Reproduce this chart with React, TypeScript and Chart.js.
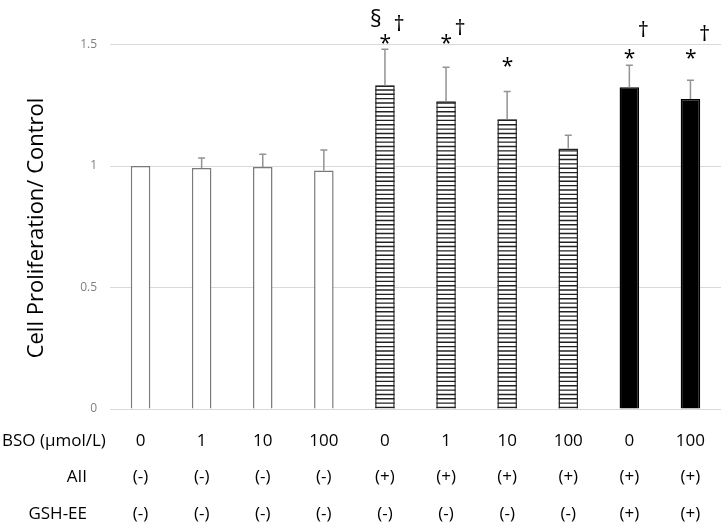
import { useEffect, useRef } from "react";
import { Chart, registerables } from "chart.js";

Chart.register(...registerables);

// ---- data ----
const bsoLabels = ["0", "1", "10", "100", "0", "1", "10", "100", "0", "100"];
const aiiLabels = ["(-)", "(-)", "(-)", "(-)", "(+)", "(+)", "(+)", "(+)", "(+)", "(+)"];
const gshLabels = ["(-)", "(-)", "(-)", "(-)", "(-)", "(-)", "(-)", "(-)", "(+)", "(+)"];
const rowTitles = ["BSO (\u03bcmol/L)", "AII", "GSH-EE"];
const means = [1.0, 0.992, 0.996, 0.981, 1.331, 1.266, 1.192, 1.072, 1.324, 1.276];
const errors = [0, 0.041, 0.052, 0.085, 0.149, 0.14, 0.115, 0.055, 0.091, 0.077];
const groups = ["open", "open", "open", "open", "striped", "striped", "striped", "striped", "solid", "solid"];
const asteriskY = [null, null, null, null, 1.522, 1.522, 1.428, null, 1.461, 1.461];
const daggerY = [null, null, null, null, 1.588, 1.574, null, null, 1.563, 1.549];
const sectionY = [null, null, null, null, 1.61, null, null, null, null, null];
const yTicks = [0, 0.5, 1, 1.5];
const yTitle = "Cell Proliferation/ Control";

const FONT = "'Open Sans', 'DejaVu Sans', sans-serif";

function drawCentered(ctx: CanvasRenderingContext2D, text: string, font: string, cx: number, cy: number) {
  ctx.font = font;
  ctx.textAlign = "left";
  ctx.textBaseline = "alphabetic";
  const m = ctx.measureText(text);
  const asc = m.actualBoundingBoxAscent;
  const desc = m.actualBoundingBoxDescent;
  const l = m.actualBoundingBoxLeft;
  const r = m.actualBoundingBoxRight;
  const bx = cx - (r - l) / 2;
  const by = cy + (asc - desc) / 2;
  ctx.fillText(text, bx, by);
}

const overlay = {
  id: "overlay",
  afterDatasetsDraw(chart: any) {
    const ctx: CanvasRenderingContext2D = chart.ctx;
    const meta = chart.getDatasetMeta(0);
    const ys = chart.scales.y;
    const xs = chart.scales.x;
    ctx.save();
    meta.data.forEach((bar: any, i: number) => {
      const { x, y, base, width } = bar.getProps(["x", "y", "base", "width"], true);
      if (groups[i] === "striped") {
        ctx.save();
        ctx.beginPath();
        ctx.rect(x - width / 2, y, width, base - y);
        ctx.clip();
        ctx.strokeStyle = "#222";
        ctx.lineWidth = 1.4;
        for (let yy = base - 1; yy > y; yy -= 4.35) {
          ctx.beginPath();
          ctx.moveTo(x - width / 2, yy);
          ctx.lineTo(x + width / 2, yy);
          ctx.stroke();
        }
        ctx.restore();
      }
      if (errors[i] > 0) {
        const top = ys.getPixelForValue(means[i] + errors[i]);
        ctx.strokeStyle = "#939393";
        ctx.lineWidth = 1.5;
        ctx.beginPath();
        ctx.moveTo(x, y);
        ctx.lineTo(x, top);
        ctx.moveTo(x - 3.5, top);
        ctx.lineTo(x + 3.5, top);
        ctx.stroke();
      }
    });

    // significance symbols
    ctx.fillStyle = "#000";
    for (let i = 0; i < means.length; i++) {
      const cx = xs.getPixelForValue(i);
      const a = asteriskY[i];
      if (a != null) drawCentered(ctx, "*", `21px ${FONT}`, cx, ys.getPixelForValue(a));
      const d = daggerY[i];
      if (d != null) drawCentered(ctx, "\u2020", `22px ${FONT}`, cx + 14, ys.getPixelForValue(d));
      const s = sectionY[i];
      if (s != null) drawCentered(ctx, "\u00a7", `23px ${FONT}`, cx - 9, ys.getPixelForValue(s));
    }

    // bottom condition table
    const rows = [bsoLabels, aiiLabels, gshLabels];
    const rowY = [441, 477, 514];
    ctx.font = `17px ${FONT}`;
    ctx.fillStyle = "#000";
    ctx.textBaseline = "middle";
    rows.forEach((row, r) => {
      ctx.textAlign = "center";
      row.forEach((t, i) => {
        ctx.fillText(t, xs.getPixelForValue(i), rowY[r]);
      });
      if (r === 0) {
        ctx.textAlign = "left";
        ctx.fillText(rowTitles[r], 2, rowY[r]);
      } else {
        ctx.textAlign = "right";
        ctx.fillText(rowTitles[r], 87, rowY[r]);
      }
    });

    // y axis title
    ctx.save();
    ctx.translate(43, 228);
    ctx.rotate(-Math.PI / 2);
    ctx.font = `22px ${FONT}`;
    ctx.textAlign = "center";
    ctx.textBaseline = "alphabetic";
    ctx.fillStyle = "#000";
    ctx.fillText(yTitle, 0, 0);
    ctx.restore();

    ctx.restore();
  },
};

export default function App() {
  const ref = useRef<HTMLCanvasElement | null>(null);
  useEffect(() => {
    if (!ref.current) return;
    const chart = new Chart(ref.current, {
      type: "bar",
      data: {
        labels: bsoLabels.map((_, i) => String(i)),
        datasets: [
          {
            data: means,
            backgroundColor: groups.map((g) => (g === "solid" ? "#000000" : "#ffffff")),
            borderColor: groups.map((g) => (g === "open" ? "#7a7a7a" : g === "striped" ? "#262626" : "#000000")),
            borderWidth: 1.5,
            barPercentage: 0.32,
            categoryPercentage: 1,
          },
        ],
      },
      options: {
        animation: false,
        responsive: true,
        maintainAspectRatio: false,
        events: [],
        layout: { padding: { top: 17.5, bottom: 120, left: 0, right: 7 } },
        plugins: { legend: { display: false }, tooltip: { enabled: false }, title: { display: false } },
        scales: {
          x: { display: false },
          y: {
            min: 0,
            max: 1.6,
            afterBuildTicks: (s: any) => {
              s.ticks = yTicks.map((v) => ({ value: v }));
            },
            afterFit: (s: any) => {
              s.width = 110;
            },
            ticks: {
              font: { family: FONT, size: 12 },
              color: "#808080",
              padding: 13,
              callback: (v: any) => String(v),
            },
            grid: { color: "#d9d9d9", lineWidth: 1, drawTicks: false },
            border: { display: false },
          },
        },
      },
      plugins: [overlay],
    });
    return () => chart.destroy();
  }, []);
  return (
    <div style={{ position: "fixed", left: 0, top: 0, width: 728, height: 529, background: "#fff" }}>
      <canvas ref={ref} />
    </div>
  );
}
